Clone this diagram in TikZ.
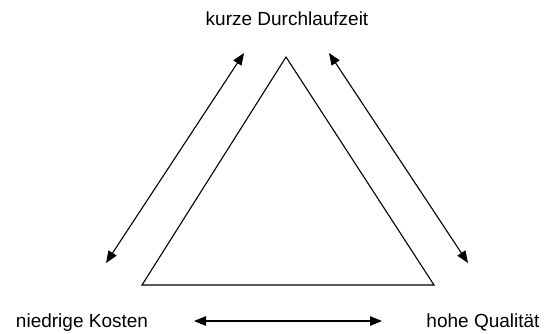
\documentclass[tikz,border=0pt]{standalone}
\usepackage{fontspec}
\setmainfont{Liberation Sans}
\usetikzlibrary{arrows.meta}
\begin{document}
\begin{tikzpicture}[x=1pt,y=-1pt,
  lbl/.style={font=\fontsize{19}{22}\selectfont, inner sep=0pt, anchor=base},
  dbl/.style={line width=1.1pt, {Triangle[length=12pt,width=9.5pt]}-{Triangle[length=12pt,width=9.5pt]}},
  tri/.style={line width=1.1pt, line join=miter}]
\useasboundingbox (0,0) rectangle (545,333);
\node[lbl] (top) at (287,25) {kurze Durchlaufzeit};
\node[lbl] (left) at (82,327) {niedrige Kosten};
\node[lbl] (right) at (483,327) {hohe Qualität};
\coordinate (A) at (286,57);
\coordinate (B) at (142,285);
\coordinate (C) at (434,285);
\draw[tri] (A) -- (B) -- (C) -- cycle;
\coordinate (l1) at (106,263);
\coordinate (l2) at (244,53);
\coordinate (r1) at (329,53);
\coordinate (r2) at (468,263);
\coordinate (b1) at (194,321);
\coordinate (b2) at (382,321);
\draw[dbl] (l1) -- (l2);
\draw[dbl] (r1) -- (r2);
\draw[dbl] (b1) -- (b2);
\end{tikzpicture}
\end{document}
